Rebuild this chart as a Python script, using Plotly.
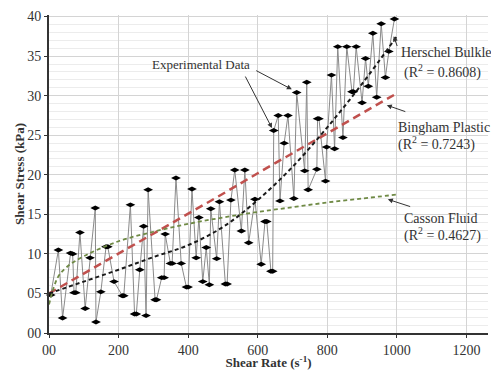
import plotly.graph_objects as go

# Experimental data (shear rate s^-1, shear stress kPa)
rate = [5, 27, 39, 62, 68, 72, 77, 89, 104, 118, 133, 135, 149, 164, 169, 187, 211, 215,
        234, 246, 251, 261, 272, 279, 285, 305, 309, 324, 331, 334, 349, 354, 365, 380,
        395, 400, 411, 423, 431, 442, 452, 461, 465, 482, 490, 507, 512, 523, 534, 553,
        563, 574, 592, 610, 621, 626, 638, 643, 646, 659, 664, 676, 687, 704, 712, 735,
        741, 745, 770, 772, 776, 795, 798, 812, 821, 830, 845, 856, 871, 875, 883, 900,
        910, 918, 931, 942, 955, 967, 977, 993]
stress = [4.8, 10.5, 1.9, 10.1, 10.0, 5.1, 5.1, 12.7, 3.1, 9.5, 15.8, 1.4, 5.2, 10.9, 10.9, 6.5, 4.7, 4.7,
          16.2, 2.4, 2.4, 8.0, 13.5, 2.2, 18.1, 4.2, 4.2, 7.0, 7.0, 12.5, 8.8, 8.8, 19.6, 8.8,
          5.8, 5.8, 18.2, 9.5, 14.6, 6.5, 10.8, 6.1, 15.7, 9.4, 16.6, 6.2, 6.2, 16.8, 20.6, 12.9,
          20.6, 11.4, 16.9, 8.7, 14.1, 14.1, 7.8, 7.8, 25.6, 27.5, 16.7, 24.0, 27.5, 17.0, 30.4, 20.5,
          31.7, 18.1, 20.7, 27.1, 27.1, 19.2, 23.5, 32.6, 23.3, 36.2, 24.7, 36.2, 30.5, 30.5, 36.2, 29.1,
          34.7, 31.2, 37.9, 29.8, 39.1, 32.3, 35.6, 39.7]

# Model curves
fit_x = [0, 100, 200, 300, 400, 500, 600, 700, 800, 900, 1000]
bingham = [5.0, 7.5, 10.1, 12.6, 15.1, 17.6, 20.2, 22.7, 25.2, 27.8, 30.3]
herschel = [5.0, 6.5, 8.0, 9.6, 11.1, 13.4, 16.8, 21.0, 26.0, 31.5, 37.5]
casson_x = [0, 25, 50, 100, 200, 300, 400, 500, 600, 700, 800, 900, 1000]
casson = [3.6, 7.0, 8.3, 9.7, 11.6, 12.8, 13.8, 14.6, 15.3, 15.9, 16.5, 17.0, 17.5]

x_ticks = [0, 200, 400, 600, 800, 1000, 1200]
x_labels = ["00", "200", "400", "600", "800", "1000", "1200"]
y_ticks = [0, 5, 10, 15, 20, 25, 30, 35, 40]
y_labels = ["00", "05", "10", "15", "20", "25", "30", "35", "40"]

FONT = "Liberation Serif"
TXT = "#333333"

fig = go.Figure()
fig.add_trace(go.Scatter(x=rate, y=stress, mode="lines+markers",
                         line=dict(color="#8a8a8a", width=1),
                         marker=dict(symbol="diamond-wide", size=7, color="black"),
                         showlegend=False, cliponaxis=False))
fig.add_trace(go.Scatter(x=fit_x, y=bingham, mode="lines",
                         line=dict(color="#c0504d", width=2.5, dash="8px,5px"),
                         showlegend=False))
fig.add_trace(go.Scatter(x=fit_x, y=herschel, mode="lines", line_shape="spline",
                         line=dict(color="#1a1a1a", width=2, dash="4px,3px"),
                         showlegend=False))
fig.add_trace(go.Scatter(x=casson_x, y=casson, mode="lines", line_shape="spline",
                         line=dict(color="#6f8a45", width=1.8, dash="4px,3px"),
                         showlegend=False))

def label(x, y, text, size=13, anchor="left"):
    fig.add_annotation(x=x, y=y, text=text, showarrow=False, xanchor=anchor,
                       yanchor="middle", font=dict(family=FONT, size=size, color=TXT))

def arrow(tx, ty, hx, hy):
    fig.add_annotation(x=hx, y=hy, ax=tx, ay=ty, axref="x", ayref="y", text=" ",
                       showarrow=True, arrowhead=2, arrowsize=1, arrowwidth=1,
                       arrowcolor="#333333", font=dict(size=2))

label(437, 33.9, "Experimental Data", size=13, anchor="center")
arrow(590, 33.3, 698, 30.8)
arrow(560, 32.8, 641, 25.9)

label(1006, 35.4, "Herschel Bulkley", size=14)
label(1132, 33.0, "(R<sup>2</sup> = 0.8608)", size=14, anchor="center")
arrow(1004, 35.9, 991, 37.5)

label(997, 26.0, "Bingham Plastic", size=14)
label(997, 24.0, "(R<sup>2</sup> = 0.7243)", size=14)
arrow(1030, 27.9, 971, 28.8)

label(1014, 14.5, "Casson Fluid", size=14)
label(1014, 12.5, "(R<sup>2</sup> = 0.4627)", size=14)
arrow(1044, 15.9, 974, 16.9)

fig.update_xaxes(range=[0, 1262], tickvals=x_ticks, ticktext=x_labels,
                 showgrid=True, gridcolor="#d4d4d4", gridwidth=1,
                 showline=True, linecolor="#333333", linewidth=2,
                 ticks="outside", ticklen=3, tickcolor="#333333",
                 tickfont=dict(family=FONT, size=14, color=TXT),
                 title=dict(text="<b>Shear Rate (s<sup>-1</sup>)</b>", standoff=4,
                            font=dict(family=FONT, size=13, color=TXT)),
                 zeroline=False, automargin=False)
fig.update_yaxes(range=[0, 40.2], tickvals=y_ticks, ticktext=y_labels,
                 showgrid=True, gridcolor="#d4d4d4", gridwidth=1,
                 minor=dict(dtick=1, showgrid=True, gridcolor="#ececec", gridwidth=1),
                 showline=True, linecolor="#333333", linewidth=2,
                 ticks="outside", ticklen=3, tickcolor="#333333",
                 tickfont=dict(family=FONT, size=14, color=TXT),
                 title=dict(text="<b>Shear Stress (kPa)</b>", standoff=0,
                            font=dict(family=FONT, size=13, color=TXT)),
                 zeroline=False, automargin=False)

# page body adds an 8px offset, so the figure is sized to land on the reference pixels
fig.update_layout(width=491, height=362, margin=dict(l=41, r=11, t=7, b=37),
                  paper_bgcolor="white", plot_bgcolor="white")

fig.write_html("out.html")
